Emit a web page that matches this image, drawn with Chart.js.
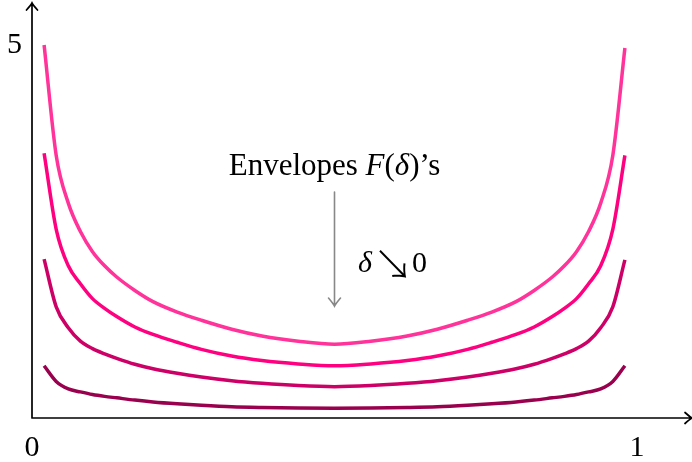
<!DOCTYPE html>
<html>
<head>
<meta charset="utf-8">
<script src="https://cdn.jsdelivr.net/npm/chart.js@4/dist/chart.umd.min.js"></script>
<style>
  html, body { margin: 0; padding: 0; background: #fff; }
  #wrap { width: 692px; height: 462px; position: relative; }
</style>
</head>
<body>
<div id="wrap"><canvas id="c" width="692" height="462"></canvas></div>
<script>
// ---- data ----
const xValues = [0.02,0.04,0.06,0.08,0.10,0.12,0.14,0.17,0.20,0.24,0.28,0.33,0.38,0.44,0.50,
                 0.56,0.62,0.67,0.72,0.76,0.80,0.83,0.86,0.88,0.90,0.92,0.94,0.96,0.98];
const envelope1 = [5.00,3.52,2.88,2.50,2.23,2.04,1.89,1.71,1.56,1.42,1.31,1.19,1.10,1.03,0.99,
                   1.03,1.10,1.19,1.31,1.42,1.56,1.71,1.89,2.04,2.23,2.50,2.88,3.52,4.96];
const envelope2 = [3.55,2.53,2.04,1.80,1.60,1.47,1.36,1.22,1.12,1.015,0.92,0.83,0.77,0.725,0.70,
                   0.725,0.77,0.83,0.92,1.015,1.12,1.22,1.36,1.47,1.60,1.80,2.04,2.53,3.52];
const envelope3 = [2.13,1.49,1.21,1.03,0.93,0.86,0.80,0.72,0.66,0.60,0.55,0.50,0.465,0.435,0.42,
                   0.435,0.465,0.50,0.55,0.60,0.66,0.72,0.80,0.86,0.93,1.03,1.21,1.49,2.12];
const envelope4 = [0.70,0.49,0.39,0.35,0.315,0.29,0.27,0.24,0.215,0.19,0.17,0.15,0.14,0.133,0.13,
                   0.133,0.14,0.15,0.17,0.19,0.215,0.24,0.27,0.29,0.315,0.35,0.39,0.49,0.70];
const xTicks = [0, 1];
const xTickLabels = ['0', '1'];
const yTicks = [5];
const yTickLabels = ['5'];
const titleRuns = [['Envelopes ', false], ['F', true], ['(', false], ['δ', true], [')’s', false]];
const limitText = ['δ', '↘', '0'];

// ---- styles ----
const colors = ['#FF339A', '#FF0080', '#CC0066', '#99004D'];
const serif = '"Liberation Serif", "DejaVu Serif", serif';

function pts(ys) { return xValues.map((x, i) => ({ x: x, y: ys[i] })); }

const annotate = {
  id: 'annotate',
  afterDraw(chart) {
    const ctx = chart.ctx;
    const xs = chart.scales.x, ys = chart.scales.y;
    const ca = chart.chartArea;
    ctx.save();
    // axes with arrowheads
    ctx.strokeStyle = '#000';
    ctx.lineWidth = 1.7;
    ctx.lineCap = 'round';
    ctx.beginPath();
    const ox = xs.getPixelForValue(0), oy = ys.getPixelForValue(0);
    ctx.moveTo(ox, oy); ctx.lineTo(ox, ca.top);
    ctx.moveTo(ox - 5.5, ca.top + 7);
    ctx.quadraticCurveTo(ox - 1, ca.top + 2, ox, ca.top);
    ctx.quadraticCurveTo(ox + 1, ca.top + 2, ox + 5.5, ca.top + 7);
    ctx.moveTo(ox, oy); ctx.lineTo(ca.right, oy);
    ctx.moveTo(ca.right - 7, oy - 5.5);
    ctx.quadraticCurveTo(ca.right - 2, oy - 1, ca.right, oy);
    ctx.quadraticCurveTo(ca.right - 2, oy + 1, ca.right - 7, oy + 5.5);
    ctx.stroke();

    // title text
    const tx = xs.getPixelForValue(0.5), ty = ys.getPixelForValue(3.26);
    let total = 0;
    const widths = titleRuns.map(r => {
      ctx.font = (r[1] ? 'italic ' : '') + '31px ' + serif;
      const w = ctx.measureText(r[0]).width; total += w; return w;
    });
    let cx = tx - total / 2;
    ctx.fillStyle = '#000';
    ctx.textBaseline = 'alphabetic';
    ctx.textAlign = 'left';
    titleRuns.forEach((r, i) => {
      ctx.font = (r[1] ? 'italic ' : '') + '31px ' + serif;
      ctx.fillText(r[0], cx, ty);
      cx += widths[i];
    });

    // gray arrow
    const ax = xs.getPixelForValue(0.5);
    const ay0 = ys.getPixelForValue(3.03), ay1 = ys.getPixelForValue(1.50);
    ctx.strokeStyle = '#888';
    ctx.lineWidth = 1.6;
    ctx.beginPath();
    ctx.moveTo(ax, ay0); ctx.lineTo(ax, ay1);
    ctx.moveTo(ax - 6, ay1 - 8);
    ctx.quadraticCurveTo(ax - 1, ay1 - 2, ax, ay1);
    ctx.quadraticCurveTo(ax + 1, ay1 - 2, ax + 6, ay1 - 8);
    ctx.stroke();

    // delta -> 0
    let lx = xs.getPixelForValue(0.539);
    const ly = ys.getPixelForValue(1.96);
    ctx.fillStyle = '#000';
    ctx.font = 'italic 30px ' + serif;
    ctx.fillText(limitText[0], lx, ly);
    lx += ctx.measureText(limitText[0]).width + 1;
    ctx.font = '200 40px "Noto Sans CJK JP", "DejaVu Sans", sans-serif';
    ctx.fillText(limitText[1], lx, ly + 7);
    lx += ctx.measureText(limitText[1]).width - 1;
    ctx.font = '30px ' + serif;
    ctx.fillText(limitText[2], lx, ly);
    ctx.restore();
  }
};

new Chart(document.getElementById('c'), {
  type: 'line',
  data: {
    datasets: [envelope1, envelope2, envelope3, envelope4].map((d, i) => ({
      data: pts(d),
      borderColor: colors[i],
      borderWidth: 3.5,
      pointRadius: 0,
      cubicInterpolationMode: 'monotone',
      fill: false,
      borderJoinStyle: 'round',
      borderCapStyle: 'butt'
    }))
  },
  options: {
    responsive: false,
    animation: false,
    devicePixelRatio: 1,
    layout: { padding: { top: 3, right: 0, left: 0, bottom: 0 } },
    plugins: { legend: { display: false }, tooltip: { enabled: false } },
    scales: {
      x: {
        type: 'linear', min: 0, max: 1.0909,
        grid: { display: false, drawTicks: false },
        border: { display: false },
        afterBuildTicks: s => { s.ticks = xTicks.map(v => ({ value: v })); },
        afterFit: s => { s.height = 44; s.paddingLeft = 0; s.paddingRight = 0; },
        ticks: {
          padding: 12, maxRotation: 0, autoSkip: false,
          color: '#000', font: { family: serif, size: 30 },
          callback: (v) => xTickLabels[xTicks.indexOf(v)]
        }
      },
      y: {
        type: 'linear', min: 0, max: 5.563,
        grid: { display: false, drawTicks: false },
        border: { display: false },
        afterBuildTicks: s => { s.ticks = yTicks.map(v => ({ value: v })); },
        afterFit: s => { s.width = 32; s.paddingTop = 0; s.paddingBottom = 0; },
        ticks: {
          padding: 10, autoSkip: false,
          color: '#000', font: { family: serif, size: 30 },
          callback: (v) => yTickLabels[yTicks.indexOf(v)]
        }
      }
    }
  },
  plugins: [annotate]
});
</script>
</body>
</html>
